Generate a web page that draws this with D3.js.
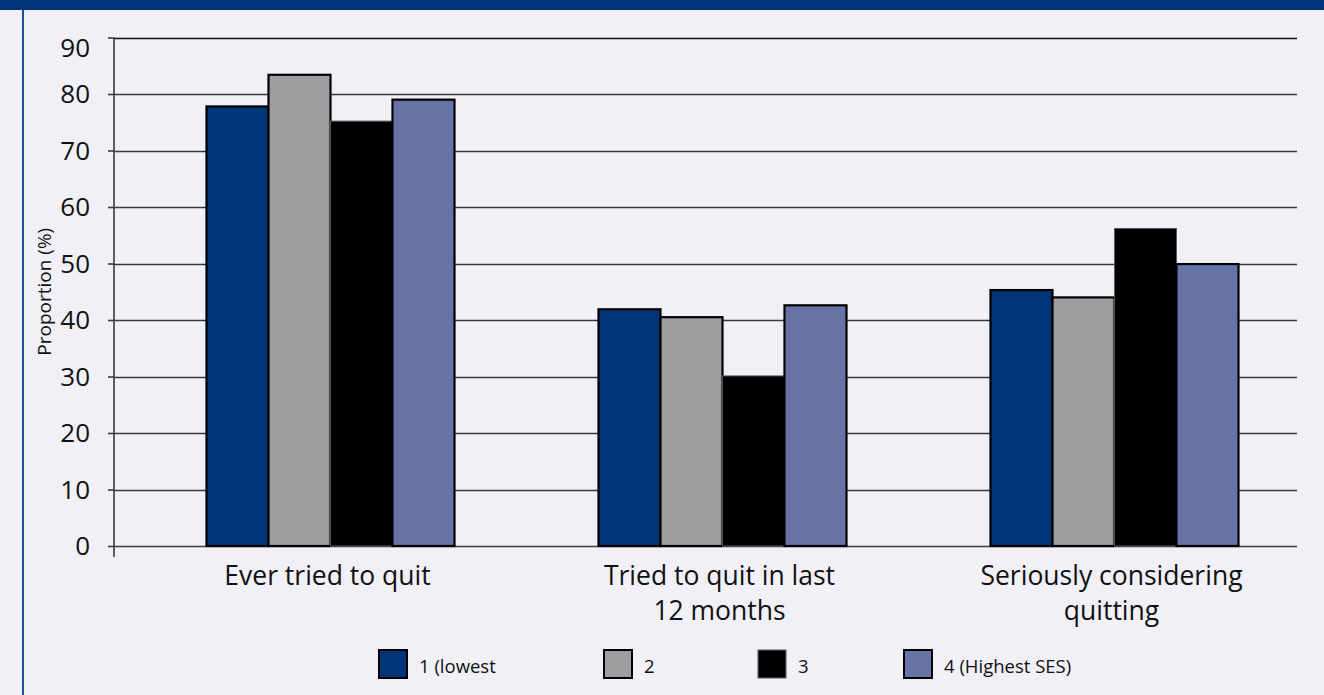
<!DOCTYPE html>
<html>
<head>
<meta charset="utf-8">
<script src="https://cdn.jsdelivr.net/npm/d3@7"></script>
<style>
  html, body { margin: 0; padding: 0; background: #f0f0f6; }
  svg { display: block; }
  text { font-family: "Open Sans", "Noto Sans", sans-serif; fill: #111; }
</style>
</head>
<body>
<svg id="chart" width="1324" height="695"></svg>
<script>
// Quit attempts by socioeconomic status
const categories = [
  ["Ever tried to quit"],
  ["Tried to quit in last", "12 months"],
  ["Seriously considering", "quitting"]
];
const seriesNames = ["1 (lowest", "2", "3", "4 (Highest SES)"];
const seriesColors = ["#003478", "#9d9ea0", "#000000", "#6873a5"];
const seriesStrokes = ["#000000", "#000000", "#5a5a5a", "#000000"];
const values = [
  [77.8, 83.4, 75.2, 79.0],
  [41.9, 40.5, 30.1, 42.6],
  [45.3, 44.0, 56.2, 49.9]
];
const yTicks = [0, 10, 20, 30, 40, 50, 60, 70, 80, 90];

const svg = d3.select("#chart");

// frame: top band and left rule
svg.append("rect").attr("x", 0).attr("y", 0).attr("width", 1324).attr("height", 10).attr("fill", "#003478");
svg.append("rect").attr("x", 22).attr("y", 10).attr("width", 2).attr("height", 685).attr("fill", "#1f4e96");

const y = d3.scaleLinear().domain([0, 90]).range([546, 37.5]);
const x0 = d3.scaleBand().domain(d3.range(categories.length)).range([134.5, 1310.5]);
const x1 = d3.scaleBand().domain(d3.range(seriesNames.length)).range([72, 320]);

const plotLeft = 114, plotRight = 1297;

// gridlines
svg.append("g").selectAll("line").data(yTicks).join("line")
  .attr("x1", plotLeft).attr("x2", plotRight)
  .attr("y1", d => Math.round(y(d)) + 0.5).attr("y2", d => Math.round(y(d)) + 0.5)
  .attr("stroke", d => d === 90 ? "#111" : "#3a3a3a").attr("stroke-width", 1.6);

// bars
const groups = svg.append("g").selectAll("g").data(values).join("g")
  .attr("transform", (d, i) => `translate(${x0(i)},0)`);
groups.selectAll("rect").data(d => d).join("rect")
  .attr("x", (d, j) => x1(j))
  .attr("width", x1.bandwidth())
  .attr("y", d => y(d))
  .attr("height", d => y(0) - y(d))
  .attr("fill", (d, j) => seriesColors[j])
  .attr("stroke", (d, j) => seriesStrokes[j])
  .attr("stroke-width", (d, j) => j === 2 ? 1 : 2.2);

// y axis
const yAxis = svg.append("g").attr("transform", `translate(${plotLeft},0)`)
  .call(d3.axisLeft(y).tickValues(yTicks).tickSize(6).tickPadding(18).tickFormat(d3.format("d")));
yAxis.select(".domain").remove();
yAxis.selectAll(".tick line").attr("stroke", "#3a3a3a").attr("stroke-width", 1.6);
yAxis.selectAll(".tick text")
  .style("font-family", "'Open Sans', 'Noto Sans', sans-serif")
  .style("font-size", "26px").attr("fill", "#111")
  .attr("dy", "0.34em")
  .attr("transform", d => d === 90 ? "translate(0,10)" : null);
svg.append("line").attr("x1", plotLeft).attr("x2", plotLeft)
  .attr("y1", y(90)).attr("y2", y(0) + 11)
  .attr("stroke", "#3a3a3a").attr("stroke-width", 1.6);

// y title
svg.append("text")
  .attr("transform", `translate(51,${(y(0) + y(90)) / 2 + 0}) rotate(-90)`)
  .attr("text-anchor", "middle")
  .style("font-size", "19px")
  .text("Proportion (%)");

// category labels
const catLabels = svg.append("g").selectAll("text").data(categories).join("text")
  .attr("x", (d, i) => x0(i) + x0.bandwidth() / 2 - 3)
  .attr("y", 585)
  .attr("text-anchor", "middle")
  .style("font-size", "26.5px");
catLabels.selectAll("tspan").data(d => d).join("tspan")
  .attr("x", function () { return this.parentNode.getAttribute("x"); })
  .attr("dy", (d, k) => k === 0 ? 0 : 35)
  .text(d => d);

// legend
const legendX = [378, 603, 757, 903];
const legend = svg.append("g").selectAll("g").data(seriesNames).join("g")
  .attr("transform", (d, j) => `translate(${legendX[j]},649)`);
legend.append("rect")
  .attr("x", 1).attr("y", 1).attr("width", 28).attr("height", 28)
  .attr("fill", (d, j) => seriesColors[j])
  .attr("stroke", (d, j) => seriesStrokes[j])
  .attr("stroke-width", (d, j) => j === 2 ? 1 : 2);
legend.append("text")
  .attr("x", 41).attr("y", 24)
  .style("font-size", "18.5px")
  .text(d => d);
</script>
</body>
</html>
